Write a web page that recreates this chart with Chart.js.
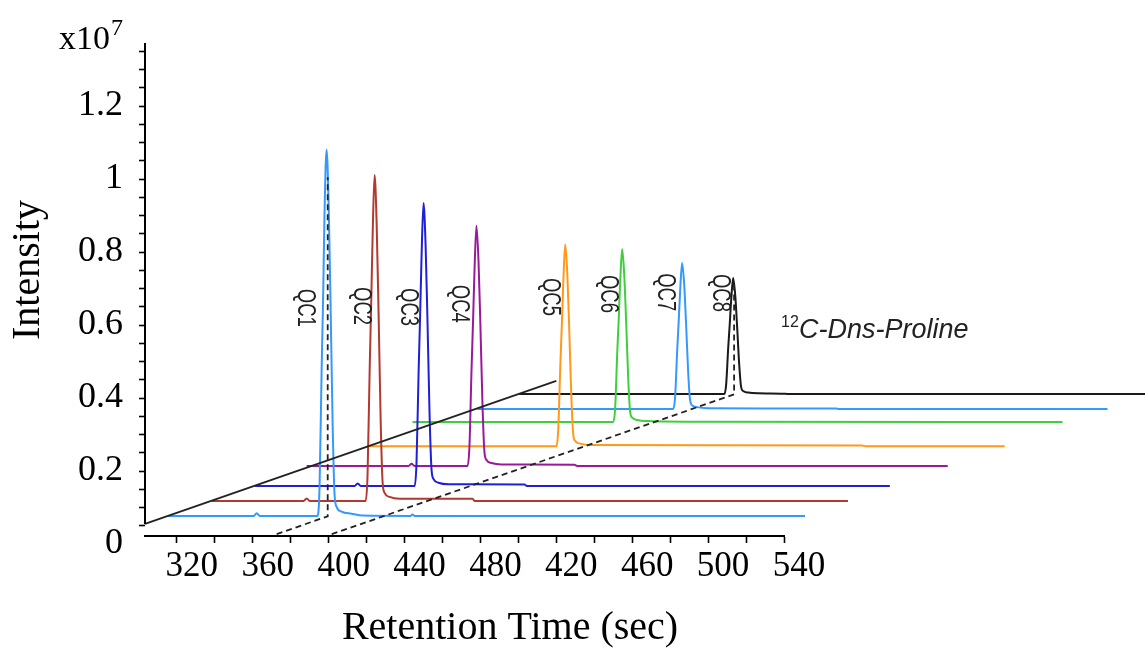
<!DOCTYPE html>
<html>
<head>
<meta charset="utf-8">
<script src="https://cdn.jsdelivr.net/npm/chart.js@4.4.1/dist/chart.umd.min.js"></script>
<style>
  html, body { margin: 0; padding: 0; background: #fff; }
  canvas { display: block; }
</style>
</head>
<body>
<canvas id="chromChart" width="1145" height="650"></canvas>
<script>
// axis ticks (x is the retention time of the front panel, labels are as printed)
const xTickValues = [320, 340, 360, 380, 400, 420, 440, 460, 480, 500, 520, 540, 560, 580, 600, 620, 640];
const xTickLabels = ['320', '360', '400', '440', '480', '420', '460', '500', '540'];
const yMajorTicks = [0, 0.2, 0.4, 0.6, 0.8, 1, 1.2];
const yTickLabels = ['0', '0.2', '0.4', '0.6', '0.8', '1', '1.2'];
const yMinorTicks = [0.05, 0.1, 0.15, 0.25, 0.3, 0.35, 0.45, 0.5, 0.55, 0.65, 0.7, 0.75,
    0.85, 0.9, 0.95, 1.05, 1.1, 1.15, 1.25, 1.3, 1.35];

const sampleNames = ['QC1', 'QC2', 'QC3', 'QC4', 'QC5', 'QC6', 'QC7', 'QC8'];
const sampleColors = ['#3399ff', '#b2392f', '#1f1fd6', '#991a99', '#ff991a', '#3ecf3e', '#3399ff', '#1a1a1a'];
// where the rotated sample names sit (retention time, intensity)
const labelTimes = [387.4, 416.8, 441.6, 468.4, 516.8, 547.4, 577.4, 606.3];
const labelIntensity = [0.647, 0.652, 0.649, 0.658, 0.677, 0.685, 0.690, 0.688];

// chromatograms, each one shifted back along the depth direction [time, intensity x10^7]
const traceQC1 = [[315.3, 0.077], [360.5, 0.077], [362.1, 0.084], [363.7, 0.077],
    [394.2, 0.077], [395.2, 0.157], [396.3, 0.478], [397.1, 0.679], [397.8, 0.899], [398.9, 1.080],
    [400.0, 0.930], [401.0, 0.659], [402.1, 0.328], [403.1, 0.137], [404.2, 0.102], [406.8, 0.089],
    [412.1, 0.083], [418.0, 0.078], [443.2, 0.077], [444.2, 0.081], [445.2, 0.077], [651.1, 0.077]];
const traceQC2 = [[338.4, 0.118], [386.8, 0.118], [388.4, 0.125], [390.0, 0.118],
    [419.5, 0.118], [420.5, 0.189], [421.6, 0.475], [422.4, 0.654], [423.2, 0.850], [424.2, 1.011],
    [425.3, 0.877], [426.3, 0.636], [427.4, 0.341], [428.4, 0.172], [429.5, 0.140], [432.1, 0.129],
    [437.4, 0.124], [475.8, 0.124], [477.0, 0.118], [673.7, 0.118]];
const traceQC3 = [[361.1, 0.159], [413.7, 0.159], [415.3, 0.166], [416.9, 0.159],
    [445.3, 0.159], [446.3, 0.221], [447.4, 0.469], [448.2, 0.624], [449.0, 0.795], [450.0, 0.934],
    [451.1, 0.818], [452.1, 0.609], [453.2, 0.353], [454.2, 0.206], [455.3, 0.178], [457.9, 0.168],
    [463.2, 0.164], [503.2, 0.163], [504.5, 0.159], [695.8, 0.159]];
const traceQC4 = [[388.4, 0.214], [442.1, 0.214], [443.7, 0.220], [445.3, 0.214],
    [473.2, 0.214], [474.2, 0.267], [475.3, 0.477], [476.1, 0.609], [476.9, 0.754], [477.9, 0.872],
    [479.0, 0.773], [480.0, 0.596], [481.1, 0.379], [482.1, 0.253], [483.2, 0.230], [485.8, 0.222],
    [491.1, 0.218], [529.5, 0.217], [531.0, 0.214], [726.3, 0.214]];
const traceQC5 = [[421.6, 0.268],
    [520.0, 0.268], [521.0, 0.312], [522.1, 0.489], [522.9, 0.600], [523.7, 0.721], [524.7, 0.821],
    [525.8, 0.738], [526.8, 0.589], [527.9, 0.406], [528.9, 0.301], [530.0, 0.282], [532.6, 0.275],
    [537.9, 0.271], [681.0, 0.270], [683.0, 0.268], [756.3, 0.268]];
const traceQC6 = [[444.2, 0.334],
    [550.0, 0.334], [551.0, 0.372], [552.1, 0.524], [552.9, 0.618], [553.7, 0.723], [554.7, 0.808],
    [555.8, 0.737], [556.8, 0.609], [557.9, 0.453], [558.9, 0.362], [560.0, 0.346], [562.6, 0.340],
    [567.9, 0.337], [600.0, 0.335], [786.8, 0.334]];
const traceQC7 = [[478.4, 0.370],
    [581.6, 0.370], [582.6, 0.402], [583.7, 0.530], [584.5, 0.610], [585.3, 0.698], [586.3, 0.770],
    [587.4, 0.710], [588.4, 0.602], [589.5, 0.470], [590.5, 0.394], [591.6, 0.380], [594.2, 0.375],
    [599.5, 0.372], [667.4, 0.371], [669.0, 0.370], [810.5, 0.370]];
const traceQC8 = [[500.5, 0.411],
    [608.5, 0.411], [609.5, 0.436], [610.6, 0.538], [611.4, 0.602], [612.2, 0.672], [613.2, 0.729],
    [614.3, 0.681], [615.3, 0.595], [616.4, 0.491], [617.4, 0.430], [618.5, 0.419], [621.1, 0.415],
    [626.4, 0.413], [640.0, 0.412], [642.0, 0.411], [832.0, 0.411]];

// guide lines: front edge of the floor, and the dashed lines through QC1 and QC8 apex
const frontEdge = [[303.2, 0.055], [520.0, 0.447]];
const guideQC1 = [[372.6, 0.027], [399.5, 0.076], [399.5, 1.005]];
const guideQC8 = [[401.6, 0.027], [613.7, 0.410], [613.7, 0.715]];

const xMin = 303.2, xMax = 640;
const yMin = 0.022, yMax = 1.3726;

const serif = "'Times New Roman', 'Liberation Serif', serif";
const sans = "Arial, 'Liberation Sans', sans-serif";

const traces = [traceQC1, traceQC2, traceQC3, traceQC4, traceQC5, traceQC6, traceQC7, traceQC8];
const toXY = arr => arr.map(([x, y]) => ({ x, y }));

const guideSet = (pts, dash) => ({
    data: toXY(pts),
    borderColor: '#222',
    borderWidth: 1.8,
    borderDash: dash,
    pointRadius: 0,
    clip: false
});

// first datasets are drawn last, so the guides and the front traces end up on top
const datasets = [
    guideSet(frontEdge, []),
    guideSet(guideQC1, [6, 4]),
    guideSet(guideQC8, [6, 4])
];
traces.forEach((t, i) => {
    datasets.push({
        label: sampleNames[i],
        data: toXY(t),
        borderColor: sampleColors[i],
        borderWidth: 2,
        pointRadius: 0,
        cubicInterpolationMode: 'monotone',
        clip: false
    });
});

const figureText = {
    id: 'figureText',
    afterDraw(chart) {
        const { ctx, chartArea, scales: { x, y } } = chart;
        ctx.save();

        // y axis only runs down to the front edge of the floor
        ctx.strokeStyle = '#000';
        ctx.lineWidth = 2;
        ctx.beginPath();
        ctx.moveTo(chartArea.left, chartArea.top);
        ctx.lineTo(chartArea.left, y.getPixelForValue(frontEdge[0][1]));
        ctx.stroke();

        ctx.fillStyle = '#000';
        ctx.textAlign = 'left';
        ctx.textBaseline = 'alphabetic';
        ctx.font = '34px ' + serif;
        ctx.fillText('x10', 59, 49);
        const w = ctx.measureText('x10').width;
        ctx.font = '24px ' + serif;
        ctx.fillText('7', 59 + w + 1, 35);

        ctx.font = '40px ' + serif;
        ctx.textAlign = 'center';
        ctx.textBaseline = 'middle';
        ctx.fillText('Retention Time (sec)', 510, 628);

        ctx.save();
        ctx.translate(28, 270);
        ctx.rotate(-Math.PI / 2);
        ctx.fillText('Intensity', 0, 0);
        ctx.restore();

        // rotated sample names
        ctx.fillStyle = '#222';
        ctx.font = '25px ' + sans;
        sampleNames.forEach((name, i) => {
            ctx.save();
            ctx.translate(x.getPixelForValue(labelTimes[i]), y.getPixelForValue(labelIntensity[i]));
            ctx.rotate(Math.PI / 2);
            ctx.scale(0.74, 1);
            ctx.fillText(name, 0, 0);
            ctx.restore();
        });

        // compound name
        ctx.textAlign = 'left';
        ctx.textBaseline = 'alphabetic';
        ctx.font = '16px ' + sans;
        ctx.fillText('12', 781, 327);
        ctx.font = 'italic 27px ' + sans;
        ctx.fillText('C-Dns-Proline', 799, 338);

        ctx.restore();
    }
};

new Chart(document.getElementById('chromChart'), {
    type: 'line',
    data: { datasets },
    options: {
        responsive: false,
        animation: false,
        layout: { padding: { left: 0, top: 43, right: 361, bottom: 0 } },
        plugins: {
            legend: { display: false },
            tooltip: { enabled: false }
        },
        scales: {
            x: {
                type: 'linear',
                bounds: 'data',
                afterDataLimits: s => { s.min = xMin; s.max = xMax; },
                afterBuildTicks: s => {
                    s.min = xMin; s.max = xMax;
                    s.ticks = xTickValues.map(v => ({ value: v }));
                },
                afterFit: s => { s.height = 114; },
                border: { display: true, color: '#000', width: 2 },
                grid: { drawOnChartArea: false, tickLength: 7, tickColor: '#000', tickWidth: 1.6 },
                ticks: {
                    autoSkip: false,
                    maxRotation: 0,
                    color: '#000',
                    font: { family: serif, size: 35 },
                    padding: 3,
                    labelOffset: 15,
                    callback: (v, i) => (i % 2 === 0 ? xTickLabels[i / 2] : '')
                }
            },
            y: {
                type: 'linear',
                bounds: 'data',
                afterDataLimits: s => { s.min = yMin; s.max = yMax; },
                afterBuildTicks: s => {
                    s.min = yMin; s.max = yMax;
                    s.ticks = yMajorTicks.concat(yMinorTicks).sort((a, b) => a - b).map(v => ({ value: v }));
                },
                afterFit: s => { s.width = 145; },
                border: { display: false },
                grid: {
                    drawOnChartArea: false,
                    tickLength: 6,
                    tickWidth: 1.6,
                    tickColor: c => (c.tick && c.tick.value === 0 ? 'rgba(0,0,0,0)' : '#000')
                },
                ticks: {
                    autoSkip: false,
                    color: '#000',
                    font: { family: serif, size: 36 },
                    padding: 16,
                    callback: v => {
                        const k = yMajorTicks.findIndex(m => Math.abs(m - v) < 1e-6);
                        return k >= 0 ? yTickLabels[k] : '';
                    }
                }
            }
        }
    },
    plugins: [figureText]
});
</script>
</body>
</html>
